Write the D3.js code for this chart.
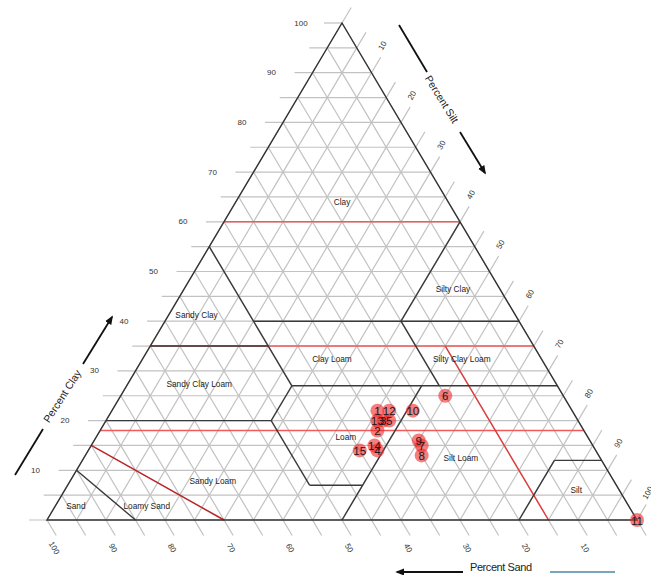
<!DOCTYPE html>
<html><head><meta charset="utf-8">
<script src="https://cdn.jsdelivr.net/npm/d3@7"></script>
<style>body{margin:0;background:#fff}svg{display:block}</style>
</head><body>
<svg id="chart" width="651" height="575"></svg>
<script>
// ---- data (sand, silt, clay in %) ----
const sampleLabels = ["1","2","3","4","5","6","7","8","9","10","11","12","13","14","15"];
const sampleSand = [33, 35, 33, 37, 32, 20, 29, 30, 29, 27, 0, 31, 34, 37, 40];
const sampleSilt = [45, 47, 47, 49, 48, 55, 56, 57, 55, 51, 100, 47, 46, 48, 46];
const sampleClay = [22, 18, 20, 14, 20, 25, 15, 13, 16, 22, 0, 22, 20, 15, 14];

const axisTicks = [10, 20, 30, 40, 50, 60, 70, 80, 90, 100];
const clayTickLabels = ["10","20","30","40","50","60","70","80","90","100"];
const siltTickLabels = ["10","20","30","40","50","60","70","80","90","100"];
const sandTickLabels = ["10","20","30","40","50","60","70","80","90","100"];
const gridLevels = [0,5,10,15,20,25,30,35,40,45,50,55,60,65,70,75,80,85,90,95,100];

// USDA class boundaries: [sand, silt, clay] endpoints
const classBoundaries = [
  [[90,0,10],[85,15,0]],
  [[80,0,20],[52,28,20]],
  [[52,28,20],[45,28,27]],
  [[52,28,20],[52,41,7]],
  [[52,41,7],[43,50,7]],
  [[23,50,27],[50,50,0]],
  [[45,0,55],[45,28,27]],
  [[45,28,27],[0,73,27]],
  [[45,15,40],[0,60,40]],
  [[20,40,40],[20,53,27]],
  [[0,40,60],[20,40,40]],
  [[8,80,12],[20,80,0]],
  [[8,80,12],[0,88,12]],
  [[65,0,35],[45,20,35]]
];
// texture group lines
const groupLines = [
  [[40,0,60],[0,40,60]],
  [[65,0,35],[0,65,35]],
  [[82,0,18],[0,82,18]],
  [[15,50,35],[15,85,0]]
];
const coarseLine = [[85,0,15],[70,30,0]];

const classNames = ["Clay","Silty Clay","Sandy Clay","Clay Loam","Silty Clay Loam","Sandy Clay Loam","Loam","Silt Loam","Sandy Loam","Sand","Loamy Sand","Silt"];
const classSand = [18, 8, 54, 35.5, 13.5, 60.5, 41, 23.6, 68, 93.7, 81.7, 7.3];
const classSilt = [18, 45.6, 4.7, 32.1, 54.1, 12.1, 42.3, 63.9, 24.2, 3.5, 15.5, 86.7];
const classClay = [64, 46.4, 41.3, 32.4, 32.4, 27.4, 16.7, 12.5, 7.8, 2.8, 2.8, 6];

// ---- geometry ----
const svg = d3.select("#chart");
const xS = d3.scaleLinear().domain([0,100]).range([47,637]);
const yS = d3.scaleLinear().domain([0,100]).range([520,23]);
const P = (sand, silt, clay) => [xS(silt + clay/2), yS(clay)];

const A = P(0,0,100), BL = P(100,0,0), BR = P(0,100,0);
const unit = (a,b) => { const dx=b[0]-a[0], dy=b[1]-a[1], l=Math.hypot(dx,dy); return [dx/l, dy/l]; };
const siltDir = unit(BL, A);   // up-right
const sandDir = unit(A, BR);   // down-right
const EXT = 18;
const line = d3.line();

const gGrid = svg.append("g").attr("stroke","#c2c2c2").attr("stroke-width",1.2).attr("fill","none");
gridLevels.forEach(v => {
  const c0 = P(100-v,0,v), c1 = P(0,100-v,v);
  gGrid.append("path").attr("d", line([[c0[0]-EXT,c0[1]], c1]));
  const s0 = P(100-v,v,0), s1 = P(0,v,100-v);
  gGrid.append("path").attr("d", line([s0, [s1[0]+siltDir[0]*EXT, s1[1]+siltDir[1]*EXT]]));
  const d0 = P(v,0,100-v), d1 = P(v,100-v,0);
  gGrid.append("path").attr("d", line([d0, [d1[0]+sandDir[0]*EXT, d1[1]+sandDir[1]*EXT]]));
});

// red group lines
svg.append("g").selectAll("path").data(groupLines).join("path")
  .attr("d", d => line(d.map(p => P(...p))))
  .attr("stroke", (d,i) => i===3 ? "#e23b3b" : "#f05a5a").attr("stroke-width",1.4).attr("fill","none");
svg.append("path").attr("d", line(coarseLine.map(p => P(...p))))
  .attr("stroke","#b82525").attr("stroke-width",1.5).attr("fill","none");

// class boundaries
svg.append("g").selectAll("path").data(classBoundaries).join("path")
  .attr("d", d => line(d.map(p => P(...p))))
  .attr("stroke","#3a3a3a").attr("stroke-width",1.4).attr("fill","none");

// outline
svg.append("path").attr("d", line([A,BL,BR]) + "Z")
  .attr("stroke","#333").attr("stroke-width",1.4).attr("fill","none");

// tick labels
const tickFont = "Liberation Sans, Arial, sans-serif";
const gT = svg.append("g").attr("font-family",tickFont).attr("font-size",8).attr("fill","#333")
  .attr("text-anchor","middle").attr("dominant-baseline","central");
axisTicks.forEach((v,i) => {
  const c = P(100-v,0,v);
  gT.append("text").attr("x", c[0]-41).attr("y", c[1]).text(clayTickLabels[i]);
  const s = P(0,v,100-v);
  gT.append("text").attr("transform", `translate(${s[0]+11},${s[1]-27}) rotate(-60)`).text(siltTickLabels[i]);
  const d = P(v,100-v,0);
  gT.append("text").attr("transform", `translate(${d[0]+7},${d[1]+28}) rotate(60)`).text(sandTickLabels[i]);
});

// class names
svg.append("g").attr("font-family",tickFont).attr("font-size",8.3).attr("fill","#222")
  .attr("text-anchor","middle").attr("dominant-baseline","central")
  .selectAll("text").data(classNames).join("text")
  .attr("x", (d,i) => P(classSand[i], classSilt[i], classClay[i])[0])
  .attr("y", (d,i) => P(classSand[i], classSilt[i], classClay[i])[1])
  .text(d => d);

// axis titles with arrows
const defs = svg.append("defs");
defs.append("marker").attr("id","arr").attr("viewBox","0 0 10 10").attr("refX",8).attr("refY",5)
  .attr("markerWidth",5).attr("markerHeight",5).attr("orient","auto")
  .append("path").attr("d","M0,1L10,5L0,9Z").attr("fill","#111");
const gA = svg.append("g").attr("stroke","#111").attr("stroke-width",1.8).attr("fill","none");
gA.append("path").attr("d","M15,475L43,429");
gA.append("path").attr("d","M83,364L112,317").attr("marker-end","url(#arr)");
gA.append("path").attr("d","M399,25L427,72");
gA.append("path").attr("d","M460,132L485,173").attr("marker-end","url(#arr)");
gA.append("path").attr("d","M463,572L397,572").attr("marker-end","url(#arr)");
svg.append("path").attr("d","M550,572L615,572").attr("stroke","#4a86a8").attr("stroke-width",1.6);

const gTi = svg.append("g").attr("font-family",tickFont).attr("font-size",10.5).attr("fill","#222")
  .attr("text-anchor","middle").attr("dominant-baseline","central");
gTi.append("text").attr("transform","translate(62,396) rotate(-57)").text("Percent Clay");
gTi.append("text").attr("transform","translate(442,99) rotate(58)").text("Percent Silt");
gTi.append("text").attr("x",501).attr("y",567).attr("font-size",11).attr("textLength",62).text("Percent Sand");

// samples
const gP = svg.append("g");
const samples = sampleLabels.map((l,i) => ({l, p: P(sampleSand[i], sampleSilt[i], sampleClay[i])}));
gP.selectAll("circle").data(samples).join("circle")
  .attr("cx", d => d.p[0]).attr("cy", d => d.p[1]).attr("r", 7)
  .attr("fill","#f02828").attr("fill-opacity",0.6);
gP.selectAll("text").data(samples).join("text")
  .attr("x", d => d.p[0]).attr("y", d => d.p[1]+0.5)
  .attr("text-anchor","middle").attr("dominant-baseline","central")
  .attr("font-family",tickFont).attr("font-size",11.5).attr("fill","#1a1a1a")
  .text(d => d.l);
</script>
</body></html>
